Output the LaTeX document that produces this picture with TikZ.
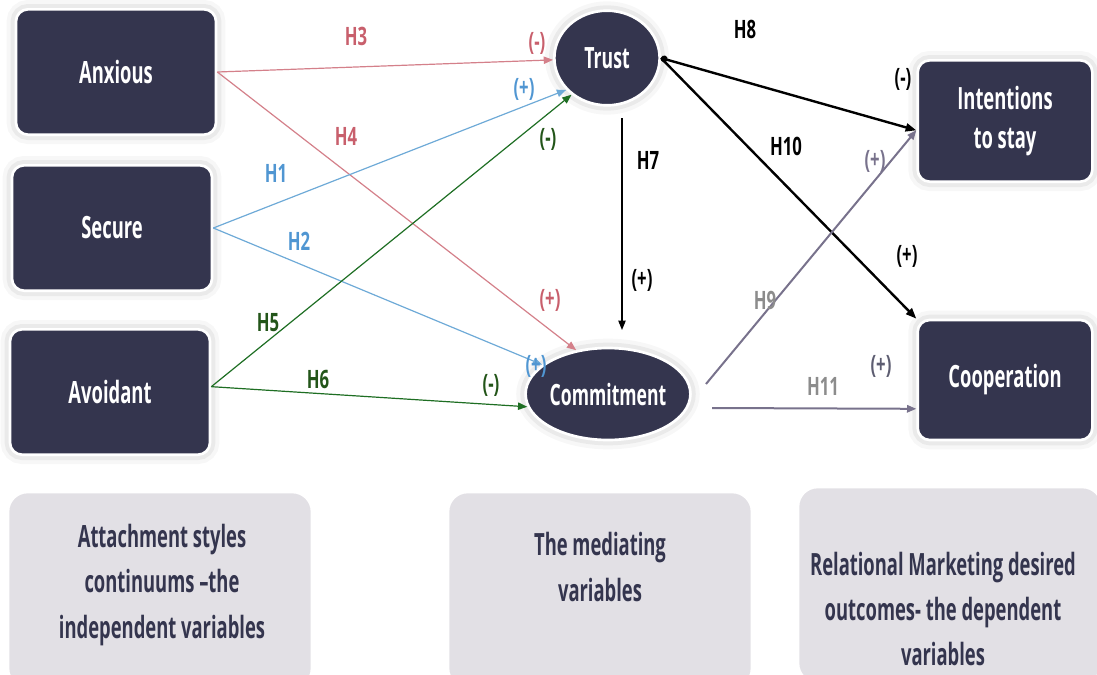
\documentclass[tikz,border=0pt]{standalone}
\usepackage{fontspec}
\setmainfont{Open Sans}[FakeStretch=0.6]
\newfontfamily\hypfont{Open Sans}[FakeStretch=0.66]
\usetikzlibrary{arrows.meta,shapes.geometric}

\definecolor{navy}{RGB}{52,53,78}
\definecolor{panelgray}{RGB}{226,224,229}
\definecolor{anxred}{RGB}{212,128,138}
\definecolor{anxtext}{RGB}{200,95,108}
\definecolor{secblue}{RGB}{110,170,215}
\definecolor{sectext}{RGB}{80,150,210}
\definecolor{avgreen}{RGB}{30,110,35}
\definecolor{avtext}{RGB}{35,85,25}
\definecolor{mauve}{RGB}{120,114,140}
\definecolor{hgray}{RGB}{140,140,140}

\begin{document}
\begin{tikzpicture}[x=0.75pt,y=0.75pt,yscale=-1,xscale=1,
    halo/.style={preaction={draw=black,draw opacity=0.03,line width=14pt},
                 preaction={draw=black,draw opacity=0.05,line width=8pt}},
    varbox/.style={halo,rectangle,rounded corners=9pt,fill=navy,draw=white,line width=2pt,
                   text=white,align=center,font=\fontsize{23}{29}\selectfont\bfseries,
                   minimum width=150pt,minimum height=94pt},
    mediator/.style={halo,ellipse,fill=navy,draw=white,line width=2pt,text=white,
                   inner sep=0pt,font=\fontsize{22}{26}\selectfont\bfseries},
    panel/.style={rectangle,rounded corners=14pt,fill=panelgray,
                   minimum width=226pt,minimum height=145pt},
    paneltext/.style={text=navy,align=center,font=\fontsize{23}{34}\selectfont\bfseries},
    hyp/.style={inner sep=1pt,font=\hypfont\fontsize{19}{21}\selectfont\bfseries},
    link/.style={-{Triangle[length=7pt,width=5.5pt]},line width=0.9pt},
  ]
  \useasboundingbox (0,0) rectangle (1097,675);
  \clip (0,0) rectangle (1097,675);

  % grey panels along the bottom
  \node [panel] (indeppanel) at (160,590) {};
  \node [panel] (medpanel) at (600,590) {};
  \node [panel] (deppanel) at (950,585) {};
  \node [paneltext] (indeptext) at (162,585) {Attachment styles\\continuums –the\\independent variables};
  \node [paneltext] (medtext) at (600,567) {The mediating\\variables};
  \node [paneltext] (deptext) at (943,609) {Relational Marketing desired\\outcomes- the dependent\\variables};

  % attachment styles
  \node [varbox] (anxious) at (116,72) {Anxious};
  \node [varbox] (secure) at (112,228) {Secure};
  \node [varbox] (avoidant) at (110,392) {Avoidant};

  % mediators
  \node [mediator,minimum width=79pt,minimum height=71pt] (trust) at (607,58) {Trust};
  \node [mediator,minimum width=107pt,minimum height=69pt] (commit) at (608,394) {Commitment};

  % outcomes
  \node [varbox,minimum width=131pt,minimum height=91pt] (intent) at (1005,121) {Intentions\\to stay};
  \node [varbox,minimum width=131pt,minimum height=90pt] (coop) at (1005,380) {Cooperation};

  \coordinate (h7top) at (622,118);
  \coordinate (h7end) at (622,330);
  \coordinate (h9start) at (706,384);
  \coordinate (h11start) at (712,408);

  % H1 - H6
  \draw [link,draw=anxred] (anxious.east) -- (trust.182);
  \draw [link,draw=anxred] (anxious.east) -- (commit.126);
  \draw [link,draw=secblue] (secure.east) -- (trust.218);
  \draw [link,draw=secblue] (secure.east) -- (commit.156);
  \draw [link,draw=avgreen] ([yshift=-4pt]avoidant.east) -- (trust.226);
  \draw [link,draw=avgreen] ([yshift=-4pt]avoidant.east) -- (commit.189);

  % H7 - H11
  \draw [link] (h7top) -- (h7end);
  \draw [link,line width=1.8pt,{Circle[length=5pt]}-{Triangle[length=8pt,width=6pt]}] (trust.east) -- (intent.186);
  \draw [link,line width=1.8pt,-{Triangle[length=8pt,width=6pt]}] (trust.east) -- (coop.north west);
  \draw [link,draw=mauve,line width=1.5pt] (h9start) -- (intent.186);
  \draw [link,draw=mauve,line width=1.5pt] (h11start) -- (coop.198);

  % hypothesis labels
  \node [hyp,text=anxtext] (h3) at (356,36) {H3};
  \node [hyp,text=anxtext] (h3sign) at (537,43) {(-)};
  \node [hyp,text=anxtext] (h4) at (346,136) {H4};
  \node [hyp,text=anxtext] (h4sign) at (550,300) {(+)};
  \node [hyp,text=sectext] (h1) at (276,173) {H1};
  \node [hyp,text=sectext] (h1sign) at (524,89) {(+)};
  \node [hyp,text=sectext] (h2) at (299,241) {H2};
  \node [hyp,text=sectext] (h2sign) at (536,366) {(+)};
  \node [hyp,text=avtext] (h5) at (268,323) {H5};
  \node [hyp,text=avtext] (h5sign) at (548,139) {(-)};
  \node [hyp,text=avtext] (h6) at (318,379) {H6};
  \node [hyp,text=avtext] (h6sign) at (491,385) {(-)};
  \node [hyp] (h7) at (648,160) {H7};
  \node [hyp] (h7sign) at (642,280) {(+)};
  \node [hyp] (h8) at (745,29) {H8};
  \node [hyp] (h8sign) at (903,79) {(-)};
  \node [hyp] (h10) at (786,146) {H10};
  \node [hyp] (h10sign) at (907,256) {(+)};
  \node [hyp,text=hgray] (h9) at (765,300) {H9};
  \node [hyp,text=mauve] (h9sign) at (875,161) {(+)};
  \node [hyp,text=hgray] (h11) at (823,386) {H11};
  \node [hyp,text=navy!80] (h11sign) at (881,366) {(+)};
\end{tikzpicture}
\end{document}
